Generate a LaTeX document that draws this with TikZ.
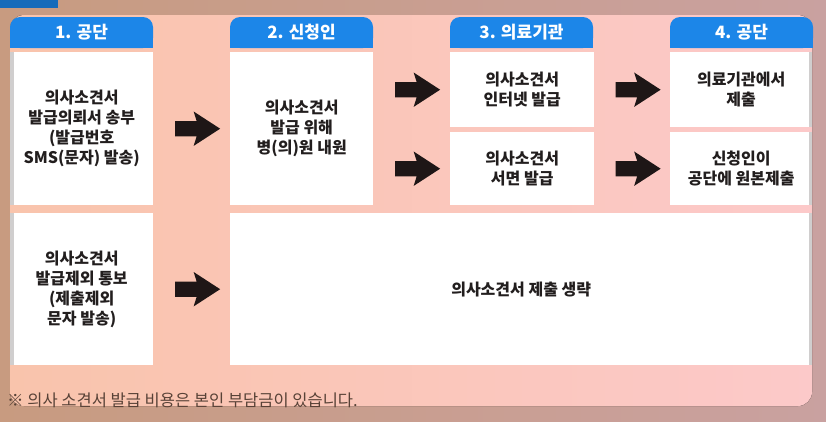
\documentclass[tikz,border=0pt]{standalone}
\usepackage{fontspec}
\setmainfont{Noto Sans CJK KR}
\usepackage{xcolor}
\usetikzlibrary{shapes.arrows, calc}
\definecolor{tabblue}{RGB}{28,134,232}
\definecolor{panelpeach}{RGB}{249,196,172}
\definecolor{panelpink}{RGB}{252,201,201}
\definecolor{framemauve}{RGB}{201,161,160}
\definecolor{frametan}{RGB}{200,155,128}
\definecolor{notebrown}{RGB}{88,66,55}
\definecolor{edgegray}{RGB}{208,206,206}
\definecolor{boxtext}{RGB}{34,30,30}
\definecolor{arrowblack}{RGB}{30,22,22}

\begin{document}
\begin{tikzpicture}[x=1pt,y=-1pt,
  box/.style={fill=white, inner sep=0pt, anchor=north west, align=center, text=boxtext, font=\bfseries\fontsize{16}{20}\selectfont},
  tablabel/.style={text=white, font=\bfseries\fontsize{17}{20}\selectfont},
  blockarrow/.style={single arrow, fill=arrowblack, inner xsep=0pt, inner ysep=7.5pt, minimum height=45pt, single arrow head extend=9.5pt, single arrow tip angle=66, single arrow head indent=3pt}]
\useasboundingbox (0,0) rectangle (826,421);

%frame and panel
\fill[left color=frametan, right color=framemauve] (0,0) rectangle (826,421);
\fill[tabblue!80!black] (0,0) rectangle (58,8);
\fill[left color=panelpeach, right color=panelpink, rounded corners=14pt] (10,15) rectangle (812,406);

%blue tabs (rounded on top only)
\foreach \x/\lbl/\n in {10/1. 공단/1, 230/2. 신청인/2, 450/3. 의료기관/3, 670/4. 공단/4} {
  \fill[tabblue, rounded corners=10pt] (\x,17) rectangle (\x+143,48);
  \fill[tabblue] (\x,32) rectangle (\x+143,48);
  \node[tablabel] (t\n) at (\x+71.5,32.5) {\lbl};
}

%white boxes
\node[box, minimum width=143pt, minimum height=153pt] (b1a) at (10,52) {의사소견서\\발급의뢰서 송부\\(발급번호\\SMS(문자) 발송)};
\node[box, minimum width=143pt, minimum height=153pt] (b2a) at (230,52) {의사소견서\\발급 위해\\병(의)원 내원};
\node[box, minimum width=144pt, minimum height=75pt] (b3a) at (450,52) {의사소견서\\인터넷 발급};
\node[box, minimum width=144pt, minimum height=73pt] (b3b) at (450,132) {의사소견서\\서면 발급};
\node[box, minimum width=142pt, minimum height=75pt] (b4a) at (670,52) {의료기관에서\\제출};
\node[box, minimum width=142pt, minimum height=73pt] (b4b) at (670,132) {신청인이\\공단에 원본제출};
\node[box, minimum width=143pt, minimum height=152pt] (b1b) at (10,213) {의사소견서\\발급제외 통보\\(제출제외\\문자 발송)};
\node[box, minimum width=582pt, minimum height=152pt] (bbig) at (230,213) {의사소견서 제출 생략};

%shadow edges
\foreach \b in {b1a,b1b}
  \fill[edgegray] (\b.north west) rectangle ([xshift=4pt]\b.south west);
\foreach \b in {b4a,b4b,bbig}
  \fill[edgegray] (\b.north east) rectangle ([xshift=-3pt]\b.south east);

%arrows
\node[blockarrow] (a12) at ($(b1a.east)!0.5!(b2a.west)$) {};
\node[blockarrow] (a23a) at ($(b2a.east |- b3a.west)!0.5!(b3a.west)$) {};
\node[blockarrow] (a23b) at ($(b2a.east |- b3b.west)!0.5!(b3b.west)$) {};
\node[blockarrow] (a34a) at ($(b3a.east)!0.5!(b4a.west)$) {};
\node[blockarrow] (a34b) at ($(b3b.east)!0.5!(b4b.west)$) {};
\node[blockarrow] (a1b) at ($(b1b.east)!0.5!(bbig.west)$) {};

%footnote
\node[anchor=west, inner sep=0pt, text=notebrown, font=\fontsize{16.5}{18}\selectfont] (note) at (7,400) {※ 의사 소견서 발급 비용은 본인 부담금이 있습니다.};

\end{tikzpicture}
\end{document}
